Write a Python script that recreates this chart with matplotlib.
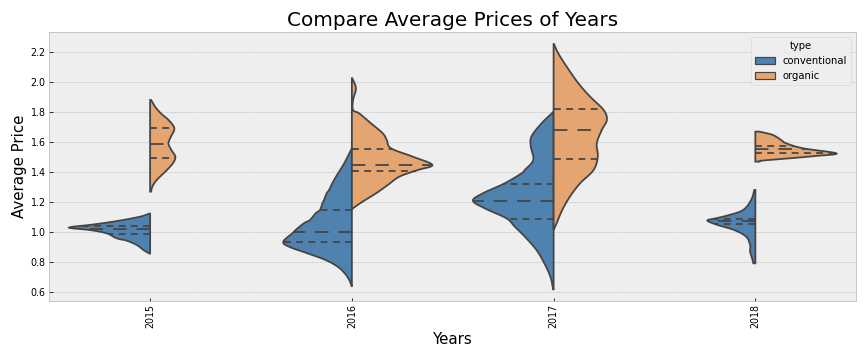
import numpy as np
import matplotlib
matplotlib.use("Agg")
import matplotlib.pyplot as plt
import matplotlib.patches as patches

plt.style.use("bmh")

# Categories and series
years = ["2015", "2016", "2017", "2018"]
types = ["conventional", "organic"]
colors = {"conventional": "#4f82ae", "organic": "#e4a571"}
edge = "#454545"

# Violin outlines: price levels and half-widths (category units)
conv_2015_price = [0.853, 0.88, 0.913, 0.942, 0.958, 0.991, 1.013, 1.029, 1.047, 1.062, 1.08, 1.102, 1.12, 1.125]
conv_2015_width = [0.0, 0.033, 0.066, 0.116, 0.166, 0.216, 0.299, 0.402, 0.299, 0.216, 0.133, 0.05, 0.008, 0.0]
org_2015_price = [1.269, 1.302, 1.347, 1.402, 1.458, 1.502, 1.547, 1.591, 1.635, 1.691, 1.747, 1.791, 1.835, 1.88]
org_2015_width = [0.005, 0.011, 0.033, 0.075, 0.113, 0.125, 0.105, 0.091, 0.103, 0.12, 0.091, 0.053, 0.025, 0.005]

conv_2016_price = [0.636, 0.68, 0.724, 0.769, 0.813, 0.858, 0.902, 0.935, 0.991, 1.013, 1.058, 1.08, 1.125,
                   1.147, 1.191, 1.213, 1.258, 1.28, 1.347, 1.458, 1.558]
conv_2016_width = [0.0, 0.013, 0.035, 0.071, 0.13, 0.221, 0.312, 0.34, 0.295, 0.279, 0.238, 0.208, 0.179,
                   0.158, 0.146, 0.138, 0.125, 0.113, 0.088, 0.038, 0.0]
org_2016_price = [1.147, 1.158, 1.202, 1.258, 1.313, 1.369, 1.413, 1.447, 1.502, 1.558, 1.613, 1.658, 1.724,
                  1.791, 1.813, 1.88, 1.958, 2.025]
org_2016_width = [0.0, 0.006, 0.053, 0.12, 0.178, 0.236, 0.327, 0.399, 0.302, 0.194, 0.173, 0.153, 0.095,
                  0.036, 0.006, 0.006, 0.02, 0.002]

conv_2017_price = [0.613, 0.624, 0.702, 0.791, 0.88, 0.969, 1.036, 1.091, 1.158, 1.209, 1.258, 1.324, 1.391,
                   1.413, 1.48, 1.569, 1.636, 1.724, 1.802]
conv_2017_width = [0.0, 0.003, 0.016, 0.046, 0.085, 0.143, 0.193, 0.234, 0.342, 0.4, 0.35, 0.243, 0.159,
                   0.143, 0.101, 0.113, 0.11, 0.06, 0.0]
org_2017_price = [1.013, 1.058, 1.147, 1.236, 1.324, 1.413, 1.502, 1.591, 1.68, 1.747, 1.813, 1.902, 1.991,
                  2.102, 2.191, 2.253]
org_2017_width = [0.0, 0.015, 0.043, 0.081, 0.131, 0.198, 0.219, 0.214, 0.239, 0.264, 0.248, 0.181, 0.123,
                  0.065, 0.023, 0.002]

conv_2018_price = [0.791, 0.824, 0.869, 0.913, 0.969, 1.013, 1.047, 1.076, 1.091, 1.113, 1.147, 1.213, 1.28]
conv_2018_width = [0.01, 0.016, 0.026, 0.026, 0.046, 0.105, 0.188, 0.238, 0.196, 0.13, 0.06, 0.021, 0.005]
org_2018_price = [1.469, 1.476, 1.491, 1.507, 1.524, 1.558, 1.591, 1.613, 1.647, 1.669]
org_2018_width = [0.02, 0.036, 0.169, 0.302, 0.402, 0.236, 0.153, 0.128, 0.086, 0.02]

# Quartiles (q25, median, q75)
conv_quart = [[0.985, 1.02, 1.042], [0.931, 1.002, 1.147], [1.087, 1.207, 1.32], [1.053, 1.073, 1.089]]
org_quart = [[1.491, 1.589, 1.696], [1.409, 1.447, 1.553], [1.484, 1.682, 1.82], [1.524, 1.553, 1.573]]

outlines = {
    "conventional": [(conv_2015_price, conv_2015_width), (conv_2016_price, conv_2016_width),
                     (conv_2017_price, conv_2017_width), (conv_2018_price, conv_2018_width)],
    "organic": [(org_2015_price, org_2015_width), (org_2016_price, org_2016_width),
                (org_2017_price, org_2017_width), (org_2018_price, org_2018_width)],
}
quartiles = {"conventional": conv_quart, "organic": org_quart}


def smooth(p, w):
    # Catmull-Rom through the read points, just for a rounder outline
    pts = np.column_stack([np.asarray(p, float), np.asarray(w, float)])
    pts = np.vstack([pts[0], pts, pts[-1]])
    out = []
    for i in range(1, len(pts) - 2):
        p0, p1, p2, p3 = pts[i - 1], pts[i], pts[i + 1], pts[i + 2]
        for t in np.linspace(0, 1, 12, endpoint=False):
            t2, t3 = t * t, t * t * t
            out.append(0.5 * ((2 * p1) + (-p0 + p2) * t + (2 * p0 - 5 * p1 + 4 * p2 - p3) * t2
                              + (-p0 + 3 * p1 - 3 * p2 + p3) * t3))
    out.append(pts[-2])
    out = np.array(out)
    return out[:, 0], np.clip(out[:, 1], 0, None)


fig = plt.figure(figsize=(12, 5), dpi=72)
ax = fig.add_axes([0.057, 0.164, 0.934, 0.747])

for kind in types:
    side = -1 if kind == "conventional" else 1
    for i, (p, w) in enumerate(outlines[kind]):
        sp, sw = smooth(p, w)
        xs = np.concatenate([[i], i + side * sw, [i]])
        ys = np.concatenate([[sp[0]], sp, [sp[-1]]])
        ax.add_patch(patches.Polygon(np.column_stack([xs, ys]), closed=True, facecolor=colors[kind],
                                     edgecolor=edge, linewidth=1.8, zorder=2))
        for j, q in enumerate(quartiles[kind][i]):
            qw = np.interp(q, sp, sw)
            dash = (0, (7.5, 5.5)) if j == 1 else (0, (3.8, 3))
            ax.plot([i, i + side * qw], [q, q], color=edge, linewidth=1.8, linestyle=dash, zorder=3)

ax.set_xlim(-0.5, 3.5)
ax.set_ylim(0.54, 2.333)
ax.set_xticks(range(len(years)))
ax.set_xticklabels(years, rotation=90, fontsize=9.5)
ax.set_yticks(np.arange(0.6, 2.21, 0.2))
ax.set_yticklabels(["%.1f" % v for v in np.arange(0.6, 2.21, 0.2)], fontsize=9.5)
ax.xaxis.grid(False)
ax.set_axisbelow(True)
ax.set_xlabel("Years", fontsize=15)
ax.set_ylabel("Average Price", fontsize=15)
ax.set_title("Compare Average Prices of Years", fontsize=20)

handles = [patches.Patch(facecolor=colors[k], edgecolor=edge, linewidth=1.2, label=k) for k in types]
ax.legend(handles=handles, title="type", loc="upper right", fontsize=10, title_fontsize=10)

fig.savefig("out.png", dpi=72)
